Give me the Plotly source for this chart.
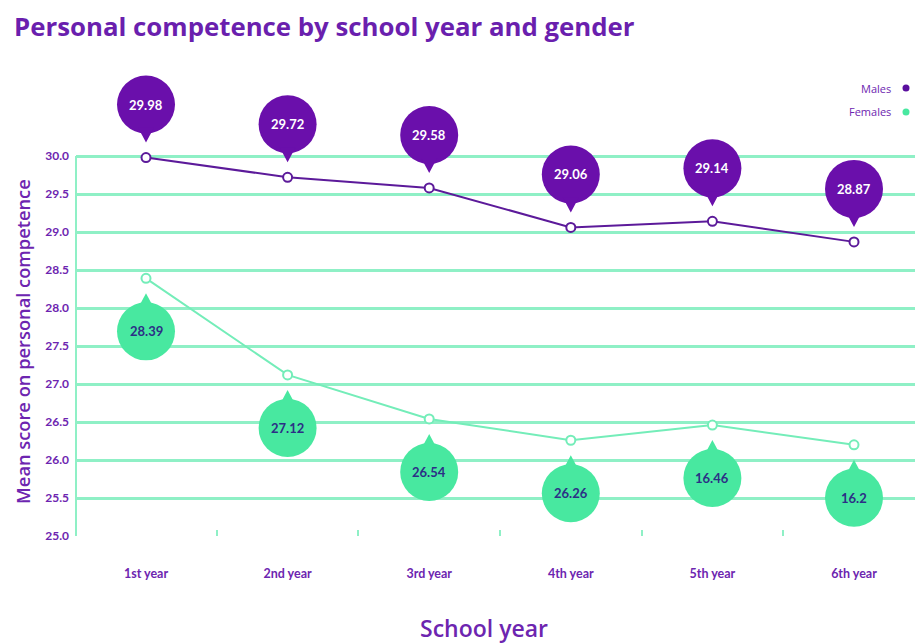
import plotly.graph_objects as go

years = ["1st year", "2nd year", "3rd year", "4th year", "5th year", "6th year"]
males = [29.98, 29.72, 29.58, 29.06, 29.14, 28.87]
females = [28.39, 27.12, 26.54, 26.26, 26.46, 26.20]
male_labels = ["29.98", "29.72", "29.58", "29.06", "29.14", "28.87"]
female_labels = ["28.39", "27.12", "26.54", "26.26", "16.46", "16.2"]
y_ticks = [25.0, 25.5, 26.0, 26.5, 27.0, 27.5, 28.0, 28.5, 29.0, 29.5, 30.0]

PURPLE = "#6a0fab"
PURPLE_TXT = "#6d25b0"
MINT = "#48e8a0"
MINT_LINE = "#74edb9"
GRID = "#8ff0c6"
FONT = "Lato"
WIDE = "Open Sans"

W, H = 915, 644
L, R, T, B = 76, 0, 60, 108

fig = go.Figure()
fig.add_trace(go.Scatter(
    x=years, y=males, mode="lines+markers", name="Males",
    line=dict(color="#5c1a9a", width=2),
    marker=dict(symbol="circle", size=9, color="white", line=dict(color="#5c1a9a", width=2)),
    showlegend=False, hoverinfo="skip"))
fig.add_trace(go.Scatter(
    x=years, y=females, mode="lines+markers", name="Females",
    line=dict(color=MINT_LINE, width=2),
    marker=dict(symbol="circle", size=9, color="white", line=dict(color=MINT_LINE, width=2)),
    showlegend=False, hoverinfo="skip"))

shapes = []
annotations = []
RAD = 29
OFF = 53


def pin(xv, yv, label, up, fill, txtcolor):
    off = OFF if up else -OFF
    shapes.append(dict(type="circle", xref="x", yref="y", xsizemode="pixel", ysizemode="pixel",
                       xanchor=xv, yanchor=yv, x0=-RAD, x1=RAD, y0=off - RAD, y1=off + RAD,
                       fillcolor=fill, line=dict(width=0), layer="above"))
    if up:
        base = off - RAD + 6
        tip = off - RAD - 9
    else:
        base = off + RAD - 6
        tip = off + RAD + 9
    shapes.append(dict(type="path", xref="x", yref="y", xsizemode="pixel", ysizemode="pixel",
                       xanchor=xv, yanchor=yv,
                       path=f"M -8,{base} L 8,{base} L 0,{tip} Z",
                       fillcolor=fill, line=dict(width=0), layer="above"))
    annotations.append(dict(x=xv, y=yv, xref="x", yref="y", yshift=off, text=f"<b>{label}</b>",
                            showarrow=False, font=dict(family=FONT, size=13, color=txtcolor)))


for i, yr in enumerate(years):
    pin(yr, males[i], male_labels[i], True, PURPLE, "white")
    pin(yr, females[i], female_labels[i], False, MINT, "#2c2f86")

# left axis line from 25 to 30
shapes.append(dict(type="line", xref="paper", yref="y", x0=0, x1=0, y0=y_ticks[0], y1=y_ticks[-1],
                   line=dict(color=GRID, width=2), layer="below"))

pw, ph = W - L - R, H - T - B


def px2paper(px, py):
    return (px - L) / pw, (H - B - py) / ph


# legend (text on left, dot on right)
for name, col, py in [("Males", "#5a0f9e", 88), ("Females", MINT, 112)]:
    tx, ty = px2paper(893, py)
    annotations.append(dict(x=tx, y=ty, xref="paper", yref="paper", xanchor="right", yanchor="middle",
                            text=name, showarrow=False, font=dict(family=WIDE, size=11, color=PURPLE_TXT)))
    dx, dy = px2paper(906, py)
    shapes.append(dict(type="circle", xref="paper", yref="paper", xsizemode="pixel", ysizemode="pixel",
                       xanchor=dx, yanchor=dy, x0=-3.5, x1=3.5, y0=-3.5, y1=3.5,
                       fillcolor=col, line=dict(width=0)))

# y axis title
yx, yy = px2paper(22, 342)
annotations.append(dict(x=yx, y=yy, xref="paper", yref="paper", textangle=-90, xanchor="center",
                        yanchor="middle", text="Mean score on personal competence", showarrow=False,
                        font=dict(family=WIDE, size=18.3, color=PURPLE_TXT, weight=600)))

# x axis title
xx, xy = px2paper(484, 628)
annotations.append(dict(x=xx, y=xy, xref="paper", yref="paper", xanchor="center",
                        yanchor="middle", text="School year", showarrow=False,
                        font=dict(family=WIDE, size=23, color=PURPLE_TXT, weight=600)))

px_per_unit = 76.0
y_top = y_ticks[0] + ph / px_per_unit
px_per_cat = 141.6
x_left = -70 / px_per_cat
x_right = x_left + pw / px_per_cat

fig.update_layout(
    width=W, height=H,
    margin=dict(l=L, r=R, t=T, b=B, autoexpand=False),
    paper_bgcolor="white", plot_bgcolor="white",
    title=dict(text="Personal competence by school year and gender", xref="container",
               yref="container", x=14 / W, xanchor="left", y=1 - 27 / H, yanchor="middle",
               font=dict(family=WIDE, size=25.8, color="#6a1fae", weight="bold")),
    xaxis=dict(type="category", range=[x_left, x_right], showgrid=False, zeroline=False, showline=False,
               ticks="inside", tickson="boundaries", ticklen=6, tickcolor=GRID, tickwidth=1.5,
               ticklabelstandoff=28,
               tickfont=dict(family=FONT, size=12.5, color=PURPLE_TXT, weight="bold")),
    yaxis=dict(range=[y_ticks[0], y_top], tickvals=y_ticks, tickformat=".1f", showgrid=True,
               gridcolor=GRID, gridwidth=2.5, zeroline=False, showline=False, ticks="",
               ticklabelstandoff=6,
               tickfont=dict(family=FONT, size=12, color=PURPLE_TXT, weight="bold")),
    shapes=shapes, annotations=annotations, showlegend=False,
)

fig.write_html("out.html", config={"displayModeBar": False},
               post_script="document.body.style.margin='0px';")
